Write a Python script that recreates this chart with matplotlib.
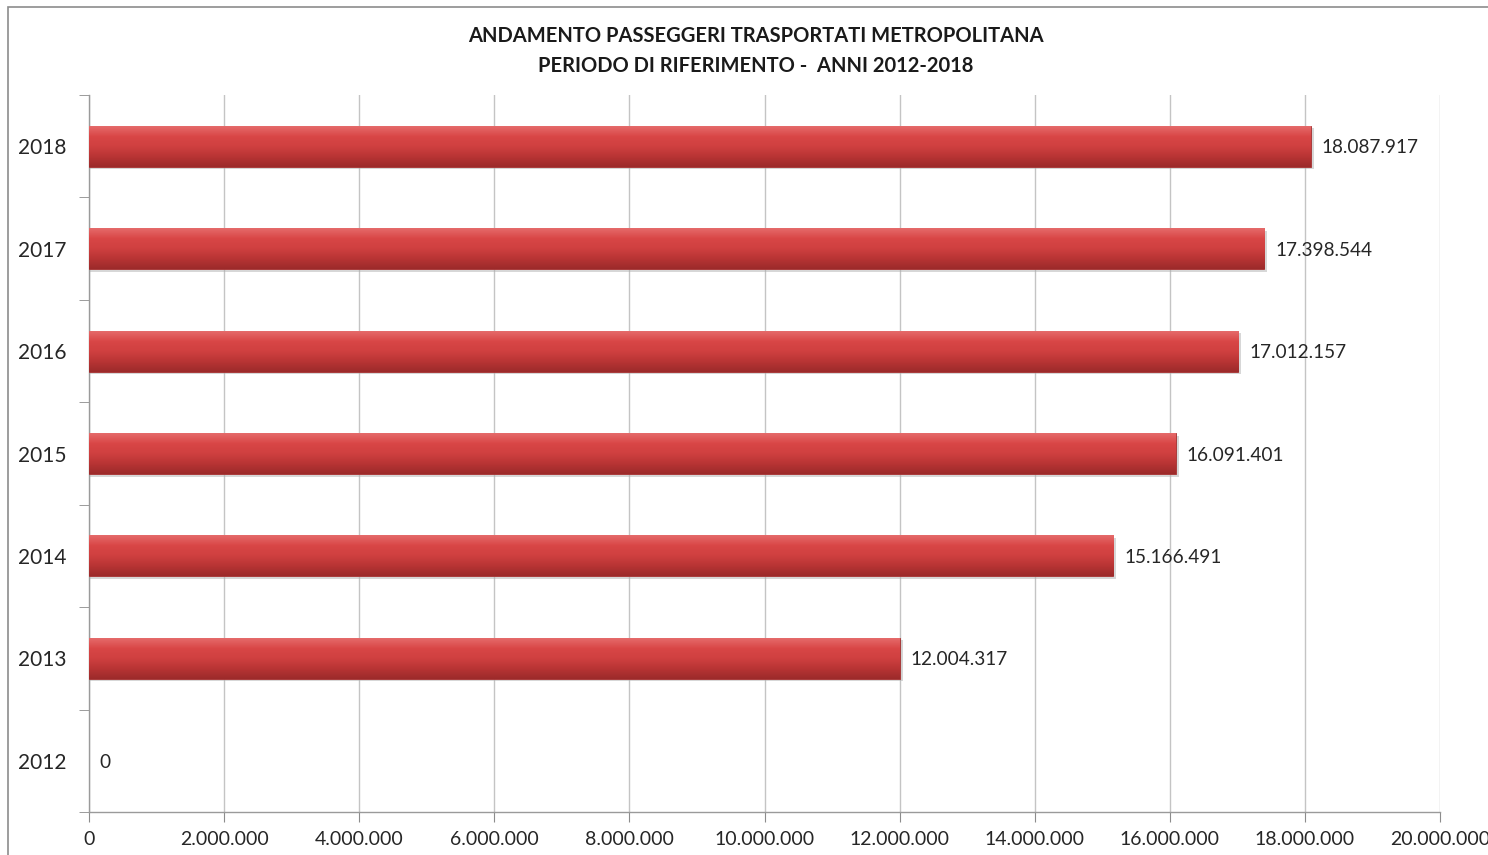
import numpy as np
import matplotlib.pyplot as plt
from matplotlib.patches import Rectangle
from matplotlib.colors import LinearSegmentedColormap

# -------------------- Data --------------------
anni = ['2012', '2013', '2014', '2015', '2016', '2017', '2018']
passeggeri = [0, 12004317, 15166491, 16091401, 17012157, 17398544, 18087917]
x_ticks = list(range(0, 20000001, 2000000))

title = ("ANDAMENTO PASSEGGERI TRASPORTATI METROPOLITANA\n"
         "PERIODO DI RIFERIMENTO -  ANNI 2012-2018")

def fmt_it(v):
    # thousands separator with dots, Italian style
    return '{:,}'.format(int(v)).replace(',', '.')

plt.rcParams['font.family'] = ['Lato', 'DejaVu Sans']

fig = plt.figure(figsize=(14.88, 8.55), dpi=100)
ax = fig.add_axes([89 / 1488, 43 / 855, 1351 / 1488, 717 / 855])

# outer chart border (Excel style)
fig.patches.append(Rectangle((8 / 1488, -0.01), 1.0, (855 - 7) / 855 + 0.01,
                             transform=fig.transFigure, fill=False,
                             edgecolor='#8c8c8c', linewidth=1.2))

y = np.arange(len(anni))
bar_h = 0.4
bars = ax.barh(y, passeggeri, height=bar_h, color='#cc3c3c', zorder=3)

# gradient fill: lighter top edge, darker bottom edge
grad = LinearSegmentedColormap.from_list(
    'bar', ['#9c2a2a', '#b83434', '#cf4040', '#d94646', '#e56a6a'])
for b in bars:
    w = b.get_width()
    if w <= 0:
        continue
    x0, y0, h = b.get_x(), b.get_y(), b.get_height()
    # soft shadow below the bar
    ax.add_patch(Rectangle((x0, y0 - 0.025), w + 40000, h, color='#b0b0b0',
                           alpha=0.5, zorder=2, linewidth=0))
    img = ax.imshow(np.linspace(0, 1, 64).reshape(-1, 1), cmap=grad,
                    extent=[x0, x0 + w, y0, y0 + h], origin='lower',
                    aspect='auto', zorder=3.5)
    img.set_clip_path(b)
    b.set_edgecolor('#a33030')
    b.set_linewidth(0.6)

for yi, v in zip(y, passeggeri):
    ax.text(v + 160000, yi, fmt_it(v), va='center_baseline', ha='left',
            fontsize=13.7, color='#262626', zorder=4)

ax.set_xlim(0, 20000000)
ax.set_ylim(-0.5, len(anni) - 0.5)
ax.set_xticks(x_ticks)
ax.set_xticklabels([fmt_it(t) for t in x_ticks], fontsize=14, color='#262626')
ax.set_yticks(y)
ax.set_yticklabels(anni, fontsize=15, color='#262626')
ax.set_yticks(np.arange(-0.5, len(anni)), minor=True)

ax.tick_params(axis='y', which='major', length=0, pad=16)
ax.tick_params(axis='y', which='minor', length=7, color='#8c8c8c')
ax.tick_params(axis='x', which='major', length=7, color='#8c8c8c', pad=7)

ax.grid(axis='x', color='#c4c4c4', linewidth=1.0, zorder=0)
ax.set_axisbelow(True)
for s in ['top', 'right']:
    ax.spines[s].set_visible(False)
for s in ['left', 'bottom']:
    ax.spines[s].set_color('#9a9a9a')
    ax.spines[s].set_linewidth(1.0)

fig.text(0.508, 0.970, title, ha='center', va='top', fontsize=14.5,
         fontweight='bold', color='#1a1a1a', linespacing=1.62)

fig.savefig('out.png', dpi=100)
